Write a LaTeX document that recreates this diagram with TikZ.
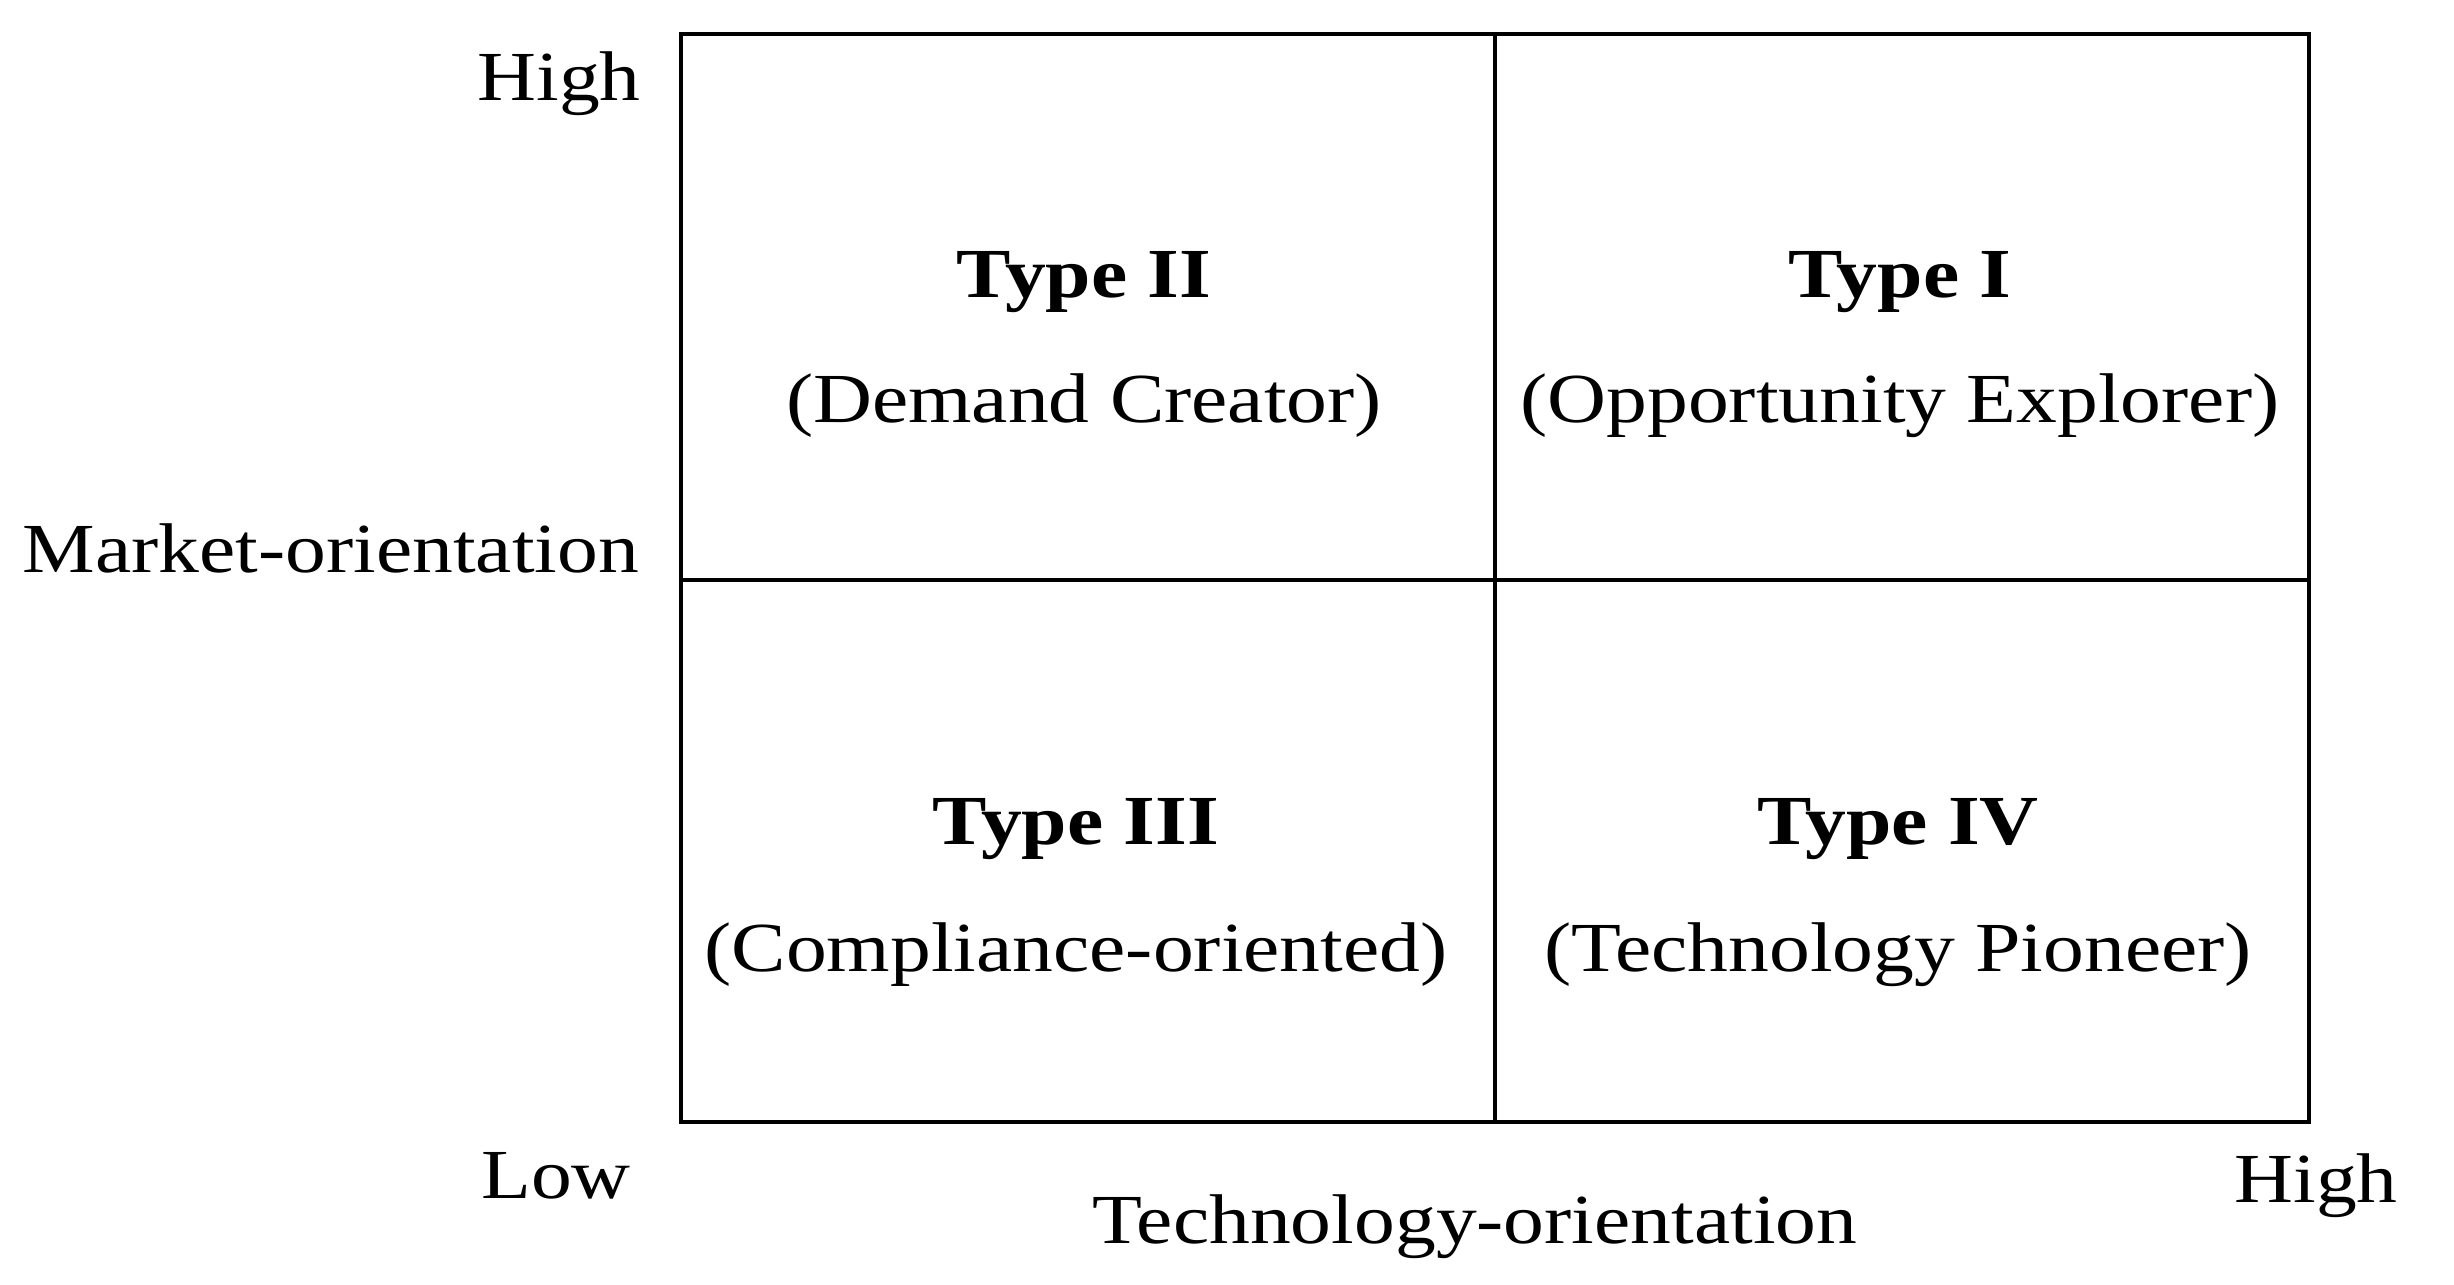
\documentclass[tikz,border=0pt]{standalone}
\usepackage{fontspec}
\setmainfont{Liberation Serif}[FakeStretch=1.16]
\usepackage{tikz}

\begin{document}
\begin{tikzpicture}
    [ x=.01cm, y=.01cm, line width=1.2pt,
      every node/.style={inner sep=0pt},
      font=\fontsize{20}{24}\selectfont,
      typename/.style={anchor=base, font=\fontsize{20}{24}\selectfont\bfseries},
      typerole/.style={anchor=base},
    ]
    \useasboundingbox (0, 0) rectangle (2454, 1284);

    \coordinate (SW) at (681, 162);
    \coordinate (NE) at (2309, 1250);
    \coordinate (C) at (1495, 704);
    \draw (SW) rectangle (NE);
    \draw (SW -| C) -- (NE -| C);
    \draw (SW |- C) -- (NE |- C);

    \foreach \id / \cx / \ty / \ry / \type / \role in {
        2/1084/986/861/II/Demand Creator,
        1/1900/986/861/I/Opportunity Explorer,
        3/1076/440/313/III/Compliance-oriented,
        4/1898/440/313/IV/Technology Pioneer} {
        \node[typename] (type\id) at (\cx, \ty) {Type \type};
        \node[typerole] (role\id) at (\cx, \ry) {(\role)};
    }

    \node[anchor=base] (mhigh) at (559, 1183) {High};
    \node[anchor=base east] (mlabel) at (641, 711) {Market-orientation};
    \node[anchor=base] (low) at (556, 86) {Low};
    \node[anchor=base] (thigh) at (2316, 82) {High};
    \node[anchor=base] (tlabel) at (1475, 41) {Technology-orientation};
\end{tikzpicture}
\end{document}
